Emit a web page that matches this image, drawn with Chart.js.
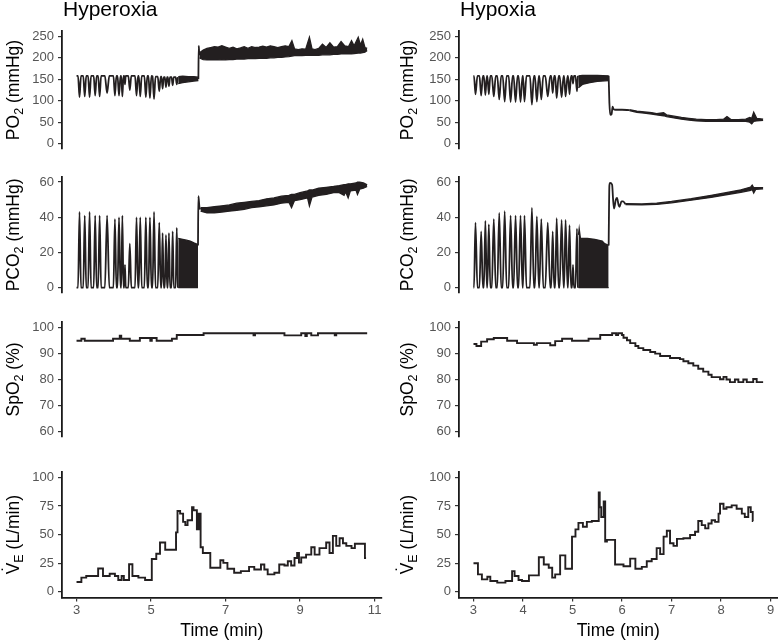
<!DOCTYPE html>
<html>
<head>
<meta charset="utf-8">
<script src="https://cdn.jsdelivr.net/npm/chart.js@4.4.1/dist/chart.umd.min.js"></script>
<style>
  html, body { margin: 0; padding: 0; background: #fff; }
  #wrap { position: relative; width: 778px; height: 643px; overflow: hidden; }
  #wrap canvas { position: absolute; }
</style>
</head>
<body>
<div id="wrap"></div>
<script>
// ---- axis ticks / labels ----
const conditions = ['Hyperoxia', 'Hypoxia'];
const po2Ticks = [0, 50, 100, 150, 200, 250];
const pco2Ticks = [0, 20, 40, 60];
const spo2Ticks = [60, 70, 80, 90, 100];
const veTicks = [0, 25, 50, 75, 100];
const hyperTimeTicks = [3, 5, 7, 9, 11];
const hypoTimeTicks = [3, 4, 5, 6, 7, 8, 9];
const timeLabel = 'Time (min)';

// ---- Hyperoxia: PO2 (mmHg) ----
// breath-by-breath trace [time, value]
const hyperPo2Trace = [
  [3.00,158],[3.04,158],[3.08,108],[3.12,158],[3.18,158],[3.22,110],[3.26,158],
  [3.31,158],[3.35,108],[3.39,158],[3.46,158],[3.50,112],[3.54,158],[3.58,158],
  [3.62,110],[3.66,158],[3.76,158],[3.82,118],[3.88,158],[3.99,158],[4.03,112],
  [4.07,158],[4.10,158],[4.14,112],[4.18,158],[4.20,158],[4.23,110],[4.26,158],
  [4.28,158],[4.30,138],[4.32,158],[4.39,158],[4.43,125],[4.47,158],[4.57,158],
  [4.61,112],[4.65,158],[4.67,158],[4.71,110],[4.75,158],[4.82,158],[4.86,108],
  [4.90,158],[4.93,158],[4.97,106],[5.01,158],[5.04,157],[5.08,104],[5.12,156],
  [5.18,156],[5.22,122],[5.26,156],[5.28,156],[5.31,128],[5.34,155],[5.37,155],
  [5.40,132],[5.43,155],[5.45,155],[5.48,134],[5.51,155],[5.55,155],[5.58,136],
  [5.61,155],[5.66,155],[5.69,138],[5.72,155]
];
// dense breathing [time, low, high]
const hyperPo2Dense = [[5.73,140,156],[5.85,142,157],[6.0,144,156],[6.15,146,156],[6.27,147,155]];
const hyperPo2Jump = [[6.27,150],[6.28,228],[6.29,214],[6.30,206]];
const hyperPo2Band = [
  [6.30,200,212],[6.4,196,218],[6.5,195,222],[6.6,195,224],[6.7,195,226],[6.8,195,225],
  [6.9,196,228],[7.0,195,225],[7.1,196,222],[7.2,196,225],[7.3,197,221],[7.4,197,223],
  [7.5,197,226],[7.6,198,222],[7.7,198,226],[7.8,198,224],[7.9,199,225],[8.0,199,227],
  [8.1,199,225],[8.2,200,228],[8.3,200,226],[8.4,201,224],[8.5,201,226],[8.6,202,228],
  [8.7,203,226],[8.78,204,240],[8.85,205,221],[8.95,205,219],[9.05,205,221],[9.15,206,220],
  [9.25,206,248],[9.32,206,221],[9.4,206,219],[9.5,206,222],[9.6,207,232],[9.7,207,224],
  [9.8,207,235],[9.9,208,225],[10.0,208,226],[10.1,209,238],[10.2,209,228],[10.3,209,226],
  [10.38,209,240],[10.45,210,228],[10.56,211,248],[10.62,211,230],[10.68,212,243],
  [10.74,213,224],[10.8,217,222]
];

// ---- Hyperoxia: PCO2 (mmHg) ----
const hyperPco2Trace = [
  [3.00,0],[3.04,0],[3.08,43],[3.12,0],[3.18,0],[3.22,41],[3.26,0],[3.31,0],[3.35,43],
  [3.39,0],[3.46,0],[3.50,41],[3.54,0],[3.58,0],[3.62,41],[3.66,0],[3.76,0],[3.82,41],
  [3.88,0],[3.99,0],[4.03,39],[4.07,0],[4.10,0],[4.14,40],[4.18,0],[4.20,0],[4.23,41],
  [4.26,0],[4.28,0],[4.30,13],[4.32,0],[4.39,0],[4.43,25],[4.47,0],[4.57,0],[4.61,40],
  [4.65,0],[4.67,0],[4.71,40],[4.75,0],[4.82,0],[4.86,40],[4.90,0],[4.93,0],[4.97,40],
  [5.01,0],[5.04,0],[5.08,43],[5.12,0],[5.18,0],[5.22,37],[5.26,0],[5.28,0],[5.31,31],
  [5.34,0],[5.37,0],[5.40,30],[5.43,0],[5.45,0],[5.48,31],[5.51,0],[5.55,0],[5.58,32],
  [5.61,0],[5.66,0],[5.69,34],[5.72,0]
];
const hyperPco2Dense = [[5.73,0,28],[5.85,0,27.5],[5.95,0,27],[6.05,0,26.5],[6.15,0,25.5],[6.26,0,24.5]];
const hyperPco2Jump = [[6.26,24],[6.27,52],[6.285,49],[6.30,45.5],[6.33,44.5]];
const hyperPco2Band = [
  [6.33,43.5,45.5],[6.5,42.5,45.5],[6.7,42.5,46],[6.9,43,46.5],[7.1,43.5,47],[7.3,44,48],
  [7.5,44.5,48.5],[7.7,45.5,49],[7.9,46,49.5],[8.1,46.5,50.5],[8.3,47,51],[8.5,48,52],
  [8.7,48.5,52.5],[8.77,45.5,53],[8.85,49.5,53],[9.0,50,54],[9.2,51,55],[9.25,46.5,55.5],
  [9.32,51.5,55.5],[9.5,52.5,56.5],[9.7,53,57],[9.9,54,57.5],[10.05,54,58],[10.18,52.5,58.5],
  [10.22,54.5,58.5],[10.29,51,59],[10.35,55,59],[10.5,55.5,59.5],[10.54,53,60],[10.6,56,60],
  [10.7,56.5,59.5],[10.8,57.5,58.5]
];

// ---- Hyperoxia: SpO2 (%) and VE (L/min), step series [time, value] ----
const hyperSpo2 = [
  [3.0,94.8],[3.13,95.6],[3.22,94.8],[3.98,95.6],[4.16,96.8],[4.2,95.6],[4.43,94.8],
  [4.70,95.9],[4.98,94.8],[5.02,95.9],[5.15,94.8],[5.56,95.6],[5.69,97.0],[6.41,97.7],
  [7.75,96.9],[7.79,97.7],[8.58,96.9],[9.03,97.7],[9.14,96.6],[9.18,97.7],[9.3,96.9],
  [9.48,97.7],[9.93,96.9],[9.97,97.7],[10.8,97.7]
];
const hyperVe = [
  [3.0,8.6],[3.13,12.4],[3.26,13.8],[3.58,20.4],[3.71,13.8],[3.89,15.8],[4.03,13.8],
  [4.12,10.3],[4.21,13.8],[4.27,10.3],[4.41,24.1],[4.50,13.8],[4.66,12.4],[4.84,10.3],
  [5.02,28.7],[5.14,33.3],[5.24,43.1],[5.38,36.8],[5.67,52],[5.71,70.7],[5.78,68.4],
  [5.86,61.2],[5.92,58.3],[5.98,62.6],[6.10,74],[6.14,71.3],[6.23,54.6],[6.28,68.4],
  [6.33,39],[6.39,33.9],[6.59,21],[6.86,27.6],[6.94,25.3],[7.05,20.1],[7.23,16.7],
  [7.41,18.1],[7.63,21.8],[7.77,19.5],[7.95,23.9],[8.04,19.5],[8.13,15.2],[8.31,16.7],
  [8.44,23.9],[8.58,23],[8.67,26.7],[8.76,23],[8.85,29.6],[8.92,34],[8.97,25.5],
  [9.03,30],[9.16,32.5],[9.30,39],[9.39,32.5],[9.52,38.2],[9.70,43.1],[9.79,33.9],
  [9.88,48.9],[9.97,40.2],[10.06,46.8],[10.15,42.5],[10.24,40.2],[10.38,38.2],
  [10.47,42],[10.74,29.6],[10.77,29.6]
];

// ---- Hypoxia: PO2 (mmHg) ----
const hypoPo2Trace = [
  [3.00,158],[3.01,158],[3.04,115],[3.08,158],[3.12,158],[3.155,112],[3.19,158],
  [3.21,158],[3.24,113],[3.27,158],[3.28,158],[3.31,115],[3.34,158],[3.37,158],
  [3.41,110],[3.45,158],[3.48,158],[3.52,103],[3.56,158],[3.59,158],[3.63,98],
  [3.67,158],[3.71,158],[3.75,97],[3.79,158],[3.81,158],[3.85,97],[3.89,158],
  [3.91,158],[3.95,97],[3.99,158],[4.00,158],[4.03,98],[4.07,158],[4.14,158],
  [4.18,91],[4.22,158],[4.24,158],[4.28,98],[4.32,158],[4.33,158],[4.37,103],
  [4.41,158],[4.45,158],[4.50,110],[4.55,158],[4.57,158],[4.60,118],[4.63,158],
  [4.65,158],[4.68,106],[4.72,158],[4.74,158],[4.78,108],[4.82,158],[4.83,158],
  [4.86,110],[4.90,158],[4.91,158],[4.94,115],[4.97,158],[4.99,158],[5.01,140],
  [5.03,158],[5.06,158],[5.09,122],[5.11,158]
];
const hypoPo2Dense = [[5.12,130,158],[5.2,138,159],[5.35,142,159],[5.5,145,159],[5.73,147,158]];
const hypoPo2Jump = [[5.73,158],[5.745,95],[5.765,67],[5.79,69],[5.81,86],[5.83,80],[5.87,79],[6.0,79],[6.15,78]];
const hypoPo2Band = [
  [6.15,77,79],[6.3,73,76],[6.45,71,74],[6.6,69,72],[6.7,67,70],[6.84,65,72],[6.9,63,67],
  [7.05,60,64],[7.2,57,61],[7.35,55,59],[7.5,53,57],[7.7,52,56],[7.9,52,56],[8.05,52,57],
  [8.12,52,63],[8.2,52,56],[8.35,52,56],[8.5,52,57],[8.58,50,61],[8.62,46,59],[8.66,52,73],
  [8.72,53,59],[8.85,54,57]
];

// ---- Hypoxia: PCO2 (mmHg) ----
const hypoPco2Trace = [
  [3.00,0],[3.01,0],[3.04,37],[3.08,0],[3.12,0],[3.155,32],[3.19,0],[3.21,0],[3.24,38],
  [3.27,0],[3.28,0],[3.31,36],[3.34,0],[3.37,0],[3.41,39],[3.45,0],[3.48,0],[3.52,42.5],
  [3.56,0],[3.59,0],[3.63,43.5],[3.67,0],[3.71,0],[3.75,41],[3.79,0],[3.81,0],[3.85,41],
  [3.89,0],[3.91,0],[3.95,41],[3.99,0],[4.00,0],[4.03,41],[4.07,0],[4.14,0],[4.18,45.5],
  [4.22,0],[4.24,0],[4.28,40.5],[4.32,0],[4.33,0],[4.37,39],[4.41,0],[4.45,0],[4.50,37],
  [4.55,0],[4.57,0],[4.60,32],[4.63,0],[4.65,0],[4.68,39.5],[4.72,0],[4.74,0],[4.78,38.5],
  [4.82,0],[4.83,0],[4.86,38.5],[4.90,0],[4.91,0],[4.94,35.5],[4.97,0],[4.99,0],[5.01,13],
  [5.03,0],[5.06,0],[5.09,33.5],[5.11,0]
];
const hypoPco2Dense = [[5.12,0,30],[5.135,0,33.5],[5.16,0,28],[5.3,0,28],[5.45,0,27.5],[5.6,0,26.5],[5.65,0,25],[5.73,0,24]];
const hypoPco2Jump = [
  [5.73,24],[5.745,58],[5.76,59.5],[5.80,58.5],[5.82,50],[5.84,45],[5.875,50],[5.9,51],
  [5.93,47],[5.95,46],[5.99,49],[6.02,49],[6.07,47.5]
];
const hypoPco2Band = [
  [6.07,47.2,47.8],[6.4,47,47.6],[6.7,47.3,48],[7.0,48.2,49],[7.4,49.7,50.6],[7.8,51.3,52.5],
  [8.1,52.8,54],[8.4,54.2,55.6],[8.6,55.3,57.2],[8.63,55.8,58.3],[8.66,53.8,56.8],[8.7,55.8,56.8],
  [8.85,56.2,56.8]
];

// ---- Hypoxia: SpO2 (%) and VE (L/min) ----
const hypoSpo2 = [
  [3.0,93.6],[3.06,92.8],[3.155,94.5],[3.275,95.4],[3.41,95.9],[3.68,94.8],[3.88,93.9],
  [4.22,93.3],[4.28,93.9],[4.55,93.1],[4.65,94.7],[4.79,95.6],[4.99,94.8],[5.325,95.6],
  [5.56,97.0],[5.80,97.7],[5.88,97.0],[5.92,97.7],[6.0,97.0],[6.03,96.0],[6.10,95.0],
  [6.165,93.9],[6.27,92.8],[6.33,92.0],[6.43,91.3],[6.57,90.5],[6.67,89.9],[6.77,89.0],
  [6.97,88.2],[7.17,87.8],[7.24,87.0],[7.34,86.2],[7.44,85.3],[7.54,84.1],[7.64,83.0],
  [7.745,81.8],[7.81,80.9],[7.98,80.1],[8.05,81.0],[8.11,80.0],[8.18,79.0],[8.28,80.0],
  [8.35,79.0],[8.45,80.0],[8.52,79.0],[8.65,80.2],[8.72,79.0],[8.85,79.0]
];
const hypoVe = [
  [3.0,25],[3.09,15.2],[3.17,10.9],[3.28,13.2],[3.34,9.5],[3.48,8],[3.645,9.5],[3.78,18.1],
  [3.83,13.8],[3.91,10.3],[3.98,9.5],[4.12,14.4],[4.32,30.2],[4.42,23.9],[4.52,21],
  [4.59,12.4],[4.65,15.2],[4.75,31.9],[4.855,20.1],[4.99,48.3],[5.06,54.6],[5.12,60.3],
  [5.21,56.9],[5.29,61.2],[5.39,62],[5.53,87],[5.55,74],[5.58,65.5],[5.63,79],[5.66,44],
  [5.695,45.4],[5.86,23.9],[6.03,22.4],[6.165,29],[6.27,20.1],[6.40,21.8],[6.50,26.7],
  [6.60,28.7],[6.70,38.2],[6.77,33],[6.84,48.3],[6.905,53.4],[6.97,42.5],[7.04,40.2],
  [7.11,46.3],[7.24,46.8],[7.375,49.7],[7.475,52.6],[7.54,62],[7.61,58.3],[7.68,55.5],
  [7.745,59.8],[7.81,62.6],[7.88,61.2],[7.95,68.4],[7.98,77],[8.05,72.7],[8.11,74],
  [8.215,75.6],[8.315,72.7],[8.42,68.4],[8.48,65.5],[8.55,74],[8.60,69.8],[8.64,62],[8.65,62]
];

// ---- styling / layout ----
const FONT = '"Liberation Sans", Arial, Helvetica, sans-serif';
const INK = '#231f20';
const YW = 40; // fixed y-axis box width

const columns = [
  { left: 0, width: 390, axisX: 62, plotRight: 381.7, xMin: 2.61, xMax: 11.19, xTicks: hyperTimeTicks, yTitleX: 13 },
  { left: 390, width: 388, axisX: 459, plotRight: 777.6, xMin: 2.7075, xMax: 9.1425, xTicks: hypoTimeTicks, yTitleX: 17 }
];
const rows = [
  { top: 0, height: 165, areaTop: 31, areaBottom: 157, yMin: -12.5, yMax: 262.5, yTicks: po2Ticks,
    yTitle: [{ t: 'PO' }, { t: '2', sub: true }, { t: ' (mmHg)' }] },
  { top: 165, height: 145, areaTop: 175.5, areaBottom: 301.5, yMin: -3, yMax: 63, yTicks: pco2Ticks,
    yTitle: [{ t: 'PCO' }, { t: '2', sub: true }, { t: ' (mmHg)' }] },
  { top: 310, height: 150, areaTop: 322, areaBottom: 448.5, yMin: 58, yMax: 102, yTicks: spo2Ticks,
    yTitle: [{ t: 'SpO' }, { t: '2', sub: true }, { t: ' (%)' }] },
  { top: 460, height: 183, areaTop: 471.5, areaBottom: 597.5, yMin: -5, yMax: 105, yTicks: veTicks,
    yTitle: [{ t: 'V', dot: true }, { t: 'E', sub: true }, { t: ' (L/min)' }] }
];

function pts(arr, k) {
  return arr.map(p => ({ x: p[0], y: p[k || 1] }));
}
function trace(arr) {
  return { data: pts(arr), borderColor: INK, borderWidth: 1.8, pointRadius: 0, fill: false,
           cubicInterpolationMode: 'monotone' };
}
function steps(arr) {
  return { data: pts(arr), borderColor: INK, borderWidth: 1.9, pointRadius: 0, fill: false, stepped: true };
}
function band(arr) {
  return [
    { data: pts(arr, 1), borderColor: INK, borderWidth: 1.3, pointRadius: 0, fill: false },
    { data: pts(arr, 2), borderColor: INK, borderWidth: 1.3, pointRadius: 0, fill: '-1', backgroundColor: INK }
  ];
}

// column titles and y titles with subscripts
const panelLabels = {
  id: 'panelLabels',
  afterDraw(chart, args, o) {
    const ctx = chart.ctx, a = chart.chartArea;
    ctx.save();
    ctx.fillStyle = '#000';
    if (o.title) {
      ctx.font = '21px ' + FONT;
      ctx.textAlign = 'left';
      ctx.textBaseline = 'alphabetic';
      ctx.fillText(o.title, a.left + 1, 15.5);
    }
    const big = '17.5px ' + FONT, small = '12.5px ' + FONT;
    let total = 0;
    o.yTitle.forEach(p => { ctx.font = p.sub ? small : big; p.w = ctx.measureText(p.t).width; total += p.w; });
    ctx.translate(o.yTitleX, (a.top + a.bottom) / 2);
    ctx.rotate(-Math.PI / 2);
    ctx.textBaseline = 'alphabetic';
    let x = -total / 2;
    const base = 6.3;
    o.yTitle.forEach(p => {
      ctx.font = p.sub ? small : big;
      ctx.textAlign = 'left';
      ctx.fillText(p.t, x, p.sub ? base + 4 : base);
      if (p.dot) {
        ctx.textAlign = 'center';
        ctx.fillText('\u02D9', x + p.w / 2, base - 4.5);
      }
      x += p.w;
    });
    ctx.restore();
  }
};

const panels = [
  [ [trace(hyperPo2Trace), ...band(hyperPo2Dense), trace(hyperPo2Jump), ...band(hyperPo2Band)],
    [trace(hypoPo2Trace), ...band(hypoPo2Dense), trace(hypoPo2Jump), ...band(hypoPo2Band)] ],
  [ [trace(hyperPco2Trace), ...band(hyperPco2Dense), trace(hyperPco2Jump), ...band(hyperPco2Band)],
    [trace(hypoPco2Trace), ...band(hypoPco2Dense), trace(hypoPco2Jump), ...band(hypoPco2Band)] ],
  [ [steps(hyperSpo2)], [steps(hypoSpo2)] ],
  [ [steps(hyperVe)], [steps(hypoVe)] ]
];

const wrap = document.getElementById('wrap');

rows.forEach((row, r) => {
  columns.forEach((col, c) => {
    const cv = document.createElement('canvas');
    cv.width = col.width;
    cv.height = row.height;
    cv.style.left = col.left + 'px';
    cv.style.top = row.top + 'px';
    wrap.appendChild(cv);
    const isBottom = r === rows.length - 1;
    const tickGrid = { drawOnChartArea: false, drawTicks: true, tickLength: 4, color: '#333', lineWidth: 1.2 };
    new Chart(cv, {
      type: 'line',
      data: { datasets: panels[r][c] },
      options: {
        responsive: false,
        animation: false,
        events: [],
        layout: {
          padding: {
            left: col.axisX - col.left - YW,
            right: col.left + col.width - col.plotRight,
            top: row.areaTop - row.top,
            bottom: isBottom ? 0 : row.top + row.height - row.areaBottom
          }
        },
        plugins: {
          legend: { display: false },
          tooltip: { enabled: false },
          panelLabels: { title: r === 0 ? conditions[c] : null, yTitle: row.yTitle, yTitleX: col.yTitleX }
        },
        scales: {
          x: {
            type: 'linear',
            display: isBottom,
            min: col.xMin,
            max: col.xMax,
            afterBuildTicks: s => { s.ticks = col.xTicks.map(v => ({ value: v })); },
            afterFit: s => { s.height = row.top + row.height - row.areaBottom; },
            grid: tickGrid,
            border: { display: true, color: '#1a1a1a', width: 1.8 },
            ticks: { color: '#555', font: { family: FONT, size: 13 }, padding: 1, maxRotation: 0, autoSkip: false },
            title: { display: true, text: timeLabel, color: '#000', font: { family: FONT, size: 17.5 },
                     padding: { top: 0, bottom: 1 } }
          },
          y: {
            type: 'linear',
            min: row.yMin,
            max: row.yMax,
            afterBuildTicks: s => { s.ticks = row.yTicks.map(v => ({ value: v })); },
            afterFit: s => { s.width = YW; },
            grid: tickGrid,
            border: { display: true, color: '#1a1a1a', width: 1.8 },
            ticks: { color: '#555', font: { family: FONT, size: 13 }, padding: 4 }
          }
        }
      },
      plugins: [panelLabels]
    });
  });
});
</script>
</body>
</html>
